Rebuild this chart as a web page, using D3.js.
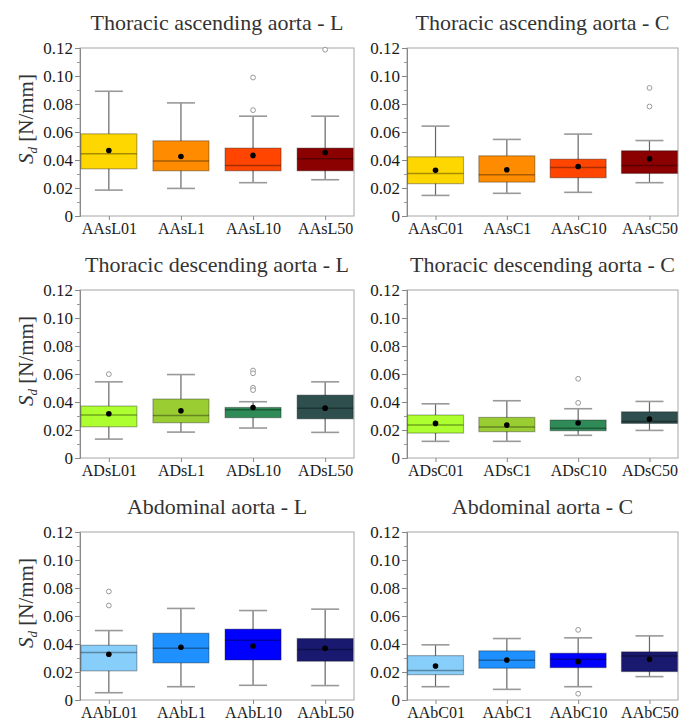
<!DOCTYPE html>
<html>
<head>
<meta charset="utf-8">
<script src="https://cdn.jsdelivr.net/npm/d3@7"></script>
<style>
  body { margin: 0; background: #ffffff; }
  svg { display: block; }
  svg text { font-family: "Liberation Serif", "Times New Roman", Tinos, "Noto Serif", "DejaVu Serif", serif; }
</style>
</head>
<body>
<div id="chart"></div>
<script>
// each box: [whiskerLow, q1, median, q3, whiskerHigh, mean]
const titles = [
  "Thoracic ascending aorta - L", "Thoracic ascending aorta - C",
  "Thoracic descending aorta - L", "Thoracic descending aorta - C",
  "Abdominal aorta - L", "Abdominal aorta - C"
];

const catsAAsL = ["AAsL01", "AAsL1", "AAsL10", "AAsL50"];
const boxAAsL = [
  [0.0185, 0.0337, 0.0444, 0.0587, 0.0891, 0.0468],
  [0.0197, 0.0323, 0.0392, 0.0537, 0.0808, 0.0425],
  [0.0238, 0.0323, 0.0361, 0.0485, 0.0713, 0.0433],
  [0.0259, 0.0323, 0.0409, 0.0485, 0.0713, 0.0454]
];
const outAAsL = [[], [], [0.0989, 0.0756], [0.1188]];

const catsAAsC = ["AAsC01", "AAsC1", "AAsC10", "AAsC50"];
const boxAAsC = [
  [0.0147, 0.0231, 0.0304, 0.0423, 0.0642, 0.0326],
  [0.0162, 0.0242, 0.0295, 0.0430, 0.0547, 0.0330],
  [0.0169, 0.0273, 0.0347, 0.0406, 0.0585, 0.0354],
  [0.0238, 0.0304, 0.0361, 0.0466, 0.0539, 0.0409]
];
const outAAsC = [[], [], [], [0.0915, 0.0782]];

const catsADsL = ["ADsL01", "ADsL1", "ADsL10", "ADsL50"];
const boxADsL = [
  [0.0135, 0.0223, 0.0307, 0.0371, 0.0544, 0.0316],
  [0.0185, 0.0252, 0.0304, 0.0421, 0.0596, 0.0337],
  [0.0214, 0.0288, 0.0345, 0.0361, 0.0402, 0.0361],
  [0.0183, 0.0280, 0.0356, 0.0449, 0.0544, 0.0356]
];
const outADsL = [[0.0599], [], [0.0625, 0.0605, 0.0502, 0.0485], []];

const catsADsC = ["ADsC01", "ADsC1", "ADsC10", "ADsC50"];
const boxADsC = [
  [0.0119, 0.0178, 0.0235, 0.0307, 0.0387, 0.0247],
  [0.0119, 0.0188, 0.0221, 0.0290, 0.0409, 0.0235],
  [0.0162, 0.0195, 0.0212, 0.0271, 0.0352, 0.0250],
  [0.0197, 0.0247, 0.0261, 0.0330, 0.0404, 0.0278]
];
const outADsC = [[], [], [0.0566, 0.0394], []];

const catsAAbL = ["AAbL01", "AAbL1", "AAbL10", "AAbL50"];
const boxAAbL = [
  [0.0052, 0.0208, 0.0339, 0.0391, 0.0496, 0.0327],
  [0.0095, 0.0265, 0.0370, 0.0477, 0.0654, 0.0377],
  [0.0105, 0.0286, 0.0427, 0.0506, 0.0639, 0.0386],
  [0.0103, 0.0277, 0.0360, 0.0439, 0.0649, 0.0370]
];
const outAAbL = [[0.0775, 0.0675], [], [], []];

const catsAAbC = ["AAbC01", "AAbC1", "AAbC10", "AAbC50"];
const boxAAbC = [
  [0.0095, 0.0181, 0.0210, 0.0317, 0.0394, 0.0243],
  [0.0076, 0.0227, 0.0284, 0.0351, 0.0439, 0.0286],
  [0.0095, 0.0231, 0.0291, 0.0334, 0.0444, 0.0274],
  [0.0167, 0.0203, 0.0315, 0.0344, 0.0458, 0.0291]
];
const outAAbC = [[], [], [0.0501, 0.0045], []];

const yTicks = [0, 0.02, 0.04, 0.06, 0.08, 0.10, 0.12];
const yTickLabels = ["0", "0.02", "0.04", "0.06", "0.08", "0.10", "0.12"];
const yMinor = [0.01, 0.03, 0.05, 0.07, 0.09, 0.11];

const rowColors = [
  ["#FFD700", "#FF8C00", "#FF4500", "#8B0000"],
  ["#ADFF2F", "#9ACD32", "#2E8B57", "#2F4F4F"],
  ["#87CEFA", "#1E90FF", "#0000FF", "#191970"]
];

const panels = [
  { cats: catsAAsL, boxes: boxAAsL, outs: outAAsL },
  { cats: catsAAsC, boxes: boxAAsC, outs: outAAsC },
  { cats: catsADsL, boxes: boxADsL, outs: outADsL },
  { cats: catsADsC, boxes: boxADsC, outs: outADsC },
  { cats: catsAAbL, boxes: boxAAbL, outs: outAAbL },
  { cats: catsAAbC, boxes: boxAAbC, outs: outAAbC }
];

const width = 688, height = 722;
const colX = [[80, 354], [407, 678]];
const rowTop = [48, 290, 532];
const plotH = 168;
const boxW = 56, capW = 28;

const svg = d3.select("#chart").append("svg")
  .attr("width", width)
  .attr("height", height);

panels.forEach((p, i) => {
  const row = Math.floor(i / 2), col = i % 2;
  const [x0, x1] = colX[col];
  const top = rowTop[row], bottom = top + plotH;
  const colors = rowColors[row];

  const x = d3.scalePoint().domain(p.cats).range([x0, x1]).padding(0.4);
  const y = d3.scaleLinear().domain([0, 0.12]).range([bottom, top]);

  const g = svg.append("g");

  // frame
  g.append("rect")
    .attr("x", x0).attr("y", top)
    .attr("width", x1 - x0).attr("height", plotH)
    .attr("fill", "none")
    .attr("stroke", "#a6a6a6")
    .attr("stroke-width", 1);

  // y axis
  const yAxis = g.append("g")
    .attr("transform", `translate(${x0},0)`)
    .call(d3.axisLeft(y).tickValues(yTicks)
      .tickFormat((d, k) => yTickLabels[k]).tickSize(5).tickPadding(2));
  g.append("g")
    .attr("transform", `translate(${x0},0)`)
    .call(d3.axisLeft(y).tickValues(yMinor).tickFormat("").tickSize(3))
    .call(a => a.select(".domain").remove())
    .selectAll("line").attr("stroke", "#999");
  yAxis.attr("font-family", null);
  yAxis.select(".domain").attr("stroke", "#888");
  yAxis.selectAll(".tick line").attr("stroke", "#888");
  yAxis.selectAll("text")
    .attr("font-size", "17px").attr("fill", "#1a1a1a");

  // x axis
  const xAxis = g.append("g")
    .attr("transform", `translate(0,${bottom})`)
    .call(d3.axisBottom(x).tickSize(4).tickPadding(3));
  xAxis.attr("font-family", null);
  xAxis.select(".domain").remove();
  xAxis.selectAll(".tick line").attr("stroke", "#888");
  xAxis.selectAll("text")
    .attr("font-size", "16px").attr("fill", "#1a1a1a");

  // title
  g.append("text")
    .attr("x", (x0 + x1) / 2)
    .attr("y", top - 18)
    .attr("text-anchor", "middle")
    .attr("font-size", "22px")
    .attr("fill", "#333")
    .text(titles[i]);

  // y label on the left column
  if (col === 0) {
    const lab = g.append("text")
      .attr("transform", `translate(33,${(top + bottom) / 2 - 13}) rotate(-90)`)
      .attr("text-anchor", "middle")
      .attr("font-size", "21px")
      .attr("fill", "#333");
    lab.append("tspan").attr("font-style", "italic").text("S");
    lab.append("tspan").attr("font-style", "italic").attr("font-size", "13px")
      .attr("dy", 4).text("d");
    lab.append("tspan").attr("dy", -4).text(" [N/mm]");
  }

  const boxes = g.selectAll(".box")
    .data(p.boxes.map((b, k) => ({ cat: p.cats[k], b, color: colors[k], outs: p.outs[k] })))
    .enter().append("g");

  // whiskers
  boxes.append("line")
    .attr("x1", d => x(d.cat)).attr("x2", d => x(d.cat))
    .attr("y1", d => y(d.b[0])).attr("y2", d => y(d.b[4]))
    .attr("stroke", "#666").attr("stroke-width", 1.2);
  boxes.selectAll(".cap")
    .data(d => [d.b[0], d.b[4]].map(v => ({ cat: d.cat, v })))
    .enter().append("line")
    .attr("x1", d => x(d.cat) - capW / 2).attr("x2", d => x(d.cat) + capW / 2)
    .attr("y1", d => y(d.v)).attr("y2", d => y(d.v))
    .attr("stroke", "#999").attr("stroke-width", 1.6);

  // box
  boxes.append("rect")
    .attr("x", d => x(d.cat) - boxW / 2)
    .attr("y", d => y(d.b[3]))
    .attr("width", boxW)
    .attr("height", d => y(d.b[1]) - y(d.b[3]))
    .attr("fill", d => d.color)
    .attr("stroke", "rgba(0,0,0,0.3)")
    .attr("stroke-width", 1.2);

  // median
  boxes.append("line")
    .attr("x1", d => x(d.cat) - boxW / 2).attr("x2", d => x(d.cat) + boxW / 2)
    .attr("y1", d => y(d.b[2])).attr("y2", d => y(d.b[2]))
    .attr("stroke", "rgba(0,0,0,0.35)").attr("stroke-width", 1.5);

  // mean
  boxes.append("circle")
    .attr("cx", d => x(d.cat)).attr("cy", d => y(d.b[5]))
    .attr("r", 2.8).attr("fill", "#000");

  // outliers
  boxes.selectAll(".out")
    .data(d => d.outs.map(v => ({ cat: d.cat, v })))
    .enter().append("circle")
    .attr("cx", d => x(d.cat)).attr("cy", d => y(d.v))
    .attr("r", 2.4)
    .attr("fill", "#fff")
    .attr("stroke", "#999")
    .attr("stroke-width", 1);
});
</script>
</body>
</html>
